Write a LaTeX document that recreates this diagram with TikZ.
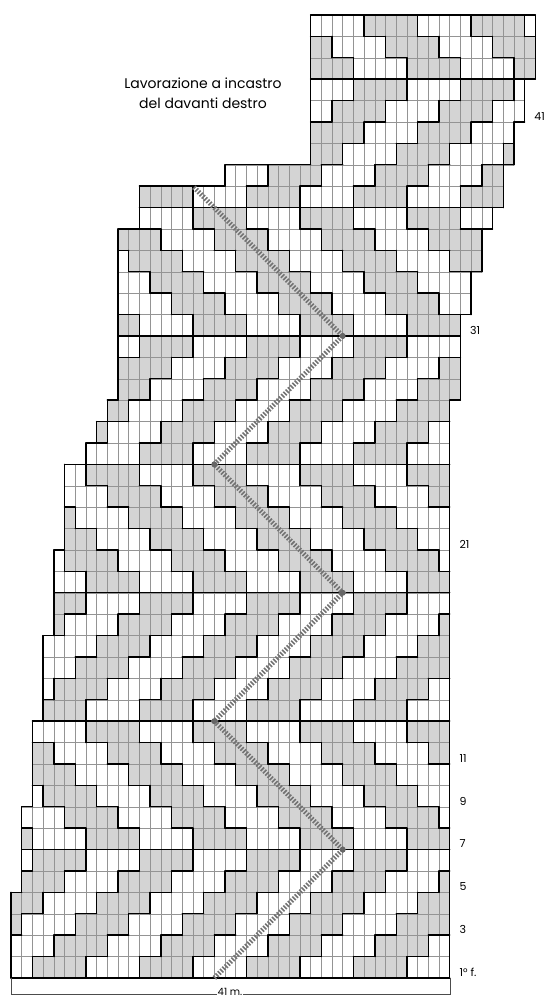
\documentclass[tikz,border=0pt]{standalone}
\usepackage{fontspec}
\setmainfont{Poppins}
% outline of the chart, one entry per row (index 0 and 46 are empty rows)
\def\Lrow{{0, 0,0,0,0, 1,1,1,1, 2,2,2,2, 3,3,3,3, 4,4,4,4, 5,5,5,5, 7,8,9,10, 10,10,10,10, 10,10,10,12, 12, 20, 28,28,28,28,28,28,28, 0}}
\def\Rrow{{0, 41,41,41,41,41,41,41,41,41,41,41,41,41,41,41,41,41,41,41,41,41,41,41,41,41,41,41, 42,42,42,42, 43,43, 44,44, 45, 46,46, 47,47, 48,48, 49,49,49, 0}}
% first grey stitch of a row
\newcommand\rowshift[2]{%
  \pgfmathtruncatemacro\bandno{floor((#2-1)/6)}%
  \pgfmathtruncatemacro\bandrow{#2-1-6*\bandno}%
  \pgfmathtruncatemacro#1{mod(\bandno,2)==0 ? 2+2*\bandrow : 7-2*\bandrow}}
\newcommand\greytest[3]{\pgfmathtruncatemacro#1{mod(#2-#3+100,10)<5 ? 1 : 0}}
\begin{document}
\begin{tikzpicture}[x=1pt,y=1pt,
  cellgrey/.style={fill=black!17},
  thinline/.style={draw=black!42,line width=0.5pt},
  thickline/.style={draw=black,line width=1.4pt,line cap=round},
  zigzag/.style={draw=black!55,line width=5pt,dash pattern=on 1.6pt off 1.6pt},
  vertexdot/.style={fill=black!60},
  rowlabel/.style={anchor=west,inner sep=0pt,font=\fontsize{11}{12}\selectfont}]
\useasboundingbox (0,0) rectangle (550,997);

\begin{scope}[shift={(11pt,19pt)},x=10.7pt,y=21.4pt]
  % cells and thin grid
  \foreach \r in {1,...,45}{
    \pgfmathtruncatemacro\L{\Lrow[\r]}
    \pgfmathtruncatemacro\R{\Rrow[\r]}
    \pgfmathtruncatemacro\Rm{\R-1}
    \rowshift\sa{\r}
    \foreach \c in {\L,...,\Rm}{
      \greytest\g{\c}{\sa}
      \ifnum\g=1 \fill[cellgrey] (\c,\r-1) rectangle (\c+1,\r);\fi
    }
    \foreach \c in {\L,...,\R} \draw[thinline] (\c,\r-1) -- (\c,\r);
    \draw[thinline] (\L,\r-1) -- (\R,\r-1) (\L,\r) -- (\R,\r);
  }
  % block borders and outline
  \foreach \r in {1,...,45}{
    \pgfmathtruncatemacro\L{\Lrow[\r]}
    \pgfmathtruncatemacro\R{\Rrow[\r]}
    \pgfmathtruncatemacro\Rm{\R-1}
    \pgfmathtruncatemacro\Lup{\Lrow[\r+1]}
    \pgfmathtruncatemacro\Rup{\Rrow[\r+1]}
    \pgfmathtruncatemacro\Ldn{\Lrow[\r-1]}
    \pgfmathtruncatemacro\Rdn{\Rrow[\r-1]}
    \rowshift\sa{\r}
    \rowshift\sb{\r+1}
    \draw[thickline] (\L,\r-1) -- (\L,\r) (\R,\r-1) -- (\R,\r);
    \foreach \c in {\L,...,\Rm}{
      \pgfmathtruncatemacro\edge{(mod(\c-\sa+100,5)==0 && \c>\L) ? 1 : 0}
      \ifnum\edge=1 \draw[thickline] (\c,\r-1) -- (\c,\r);\fi
      \pgfmathtruncatemacro\outup{(\c<\Lup || \c>=\Rup) ? 1 : 0}
      \greytest\ga{\c}{\sa}
      \greytest\gb{\c}{\sb}
      \ifnum\outup=1 \draw[thickline] (\c,\r) -- (\c+1,\r);
      \else\ifnum\ga=\gb\else \draw[thickline] (\c,\r) -- (\c+1,\r);\fi\fi
      \pgfmathtruncatemacro\outdn{(\c<\Ldn || \c>=\Rdn) ? 1 : 0}
      \ifnum\outdn=1 \draw[thickline] (\c,\r-1) -- (\c+1,\r-1);\fi
    }
  }
  % zigzag guide
  \coordinate (z0) at (19,0);
  \coordinate (z1) at (31,6);
  \coordinate (z2) at (19,12);
  \coordinate (z3) at (31,18);
  \coordinate (z4) at (19,24);
  \coordinate (z5) at (31,30);
  \coordinate (z6) at (17,37);
  \draw[zigzag] (z0) -- (z1) -- (z2) -- (z3) -- (z4) -- (z5) -- (z6);
  \foreach \p in {z1,z2,z3,z4,z5} \fill[vertexdot] (\p) circle[radius=3pt];
  % row numbers
  \node[rowlabel] (row1) at (41.9,0.27) {1° f.};
  \foreach \n in {3,5,7,9,11,21}
    \node[rowlabel] (row\n) at (41.9,\n-0.73) {\n};
  \node[rowlabel] (row31) at (42.9,30.27) {31};
  \node[rowlabel] (row41) at (48.9,40.27) {41};
\end{scope}

% stitch count
\coordinate (wl) at (11,19);
\coordinate (wr) at (450,19);
\draw[line width=0.6pt,black!70] (wl) -- ++(0,-16) -| (wr);
\node[fill=white,inner sep=1pt,font=\fontsize{10}{11}\selectfont] (width) at (230,5.5) {41 m.};

% title
\node[align=center,font=\fontsize{14}{20}\selectfont] (title) at (203,904)
  {Lavorazione a incastro\\del davanti destro};
\end{tikzpicture}
\end{document}
